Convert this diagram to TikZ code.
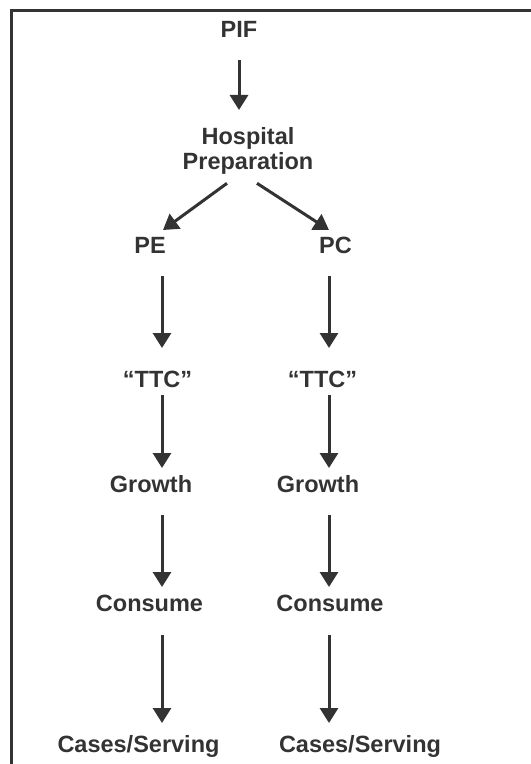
\documentclass[tikz,border=0pt]{standalone}
\usepackage{fontspec}
\setmainfont{Liberation Sans}
\usetikzlibrary{arrows.meta,calc}
\definecolor{ink}{HTML}{333333}
\begin{document}
\begin{tikzpicture}[x=1bp,y=-1bp,
  word/.style={font=\fontsize{23.5bp}{25bp}\selectfont\bfseries, text=ink, inner sep=0pt},
  stage/.style={word, text height=16.8bp, text depth=0pt, anchor=base},
  flow/.style={-{Triangle[width=18bp,length=15bp]}, draw=ink, line width=3bp}]

\useasboundingbox (0,0) rectangle (531,764);
\draw[ink, line width=3bp] (11.5,764) -- (11.5,10.5) -- (531,10.5);

\coordinate (colL) at (162,0);
\coordinate (colR) at (329,0);

\node[stage] (pif) at (239,38) {PIF};
\node[word, align=center, anchor=north] (hosp) at (248,127) {Hospital\\Preparation};
\node[stage] (pe) at (150,253) {PE};
\node[stage] (pc) at (335.5,253) {PC};
\node[stage] (ttcL) at (157.5,387) {“TTC”};
\node[stage] (ttcR) at (322.5,387) {“TTC”};
\node[stage] (growthL) at (151,492) {Growth};
\node[stage] (growthR) at (318,492) {Growth};
\node[stage] (consL) at (149.5,611) {Consume};
\node[stage] (consR) at (330,611) {Consume};
\node[stage] (casesL) at (138.5,752) {Cases/Serving};
\node[stage] (casesR) at (360,752) {Cases/Serving};

\draw[flow, shorten <=22bp, shorten >=17bp] (pif.south) -- (pif.south |- hosp.north);
\draw[flow] ($(hosp.south)+(-21,9)$) -- ($(pe.north)+(13,-6)$);
\draw[flow] ($(hosp.south)+(9,9)$) -- ($(pc.north)+(-6.5,-6)$);

\draw[flow, shorten <=23bp, shorten >=22bp] (pe.south -| colL) -- (ttcL.north -| colL);
\draw[flow, shorten <=8bp, shorten >=7bp] (ttcL.south -| colL) -- (growthL.north -| colL);
\draw[flow, shorten <=23bp, shorten >=7bp] (growthL.south -| colL) -- (consL.north -| colL);
\draw[flow, shorten <=24bp, shorten >=12bp] (consL.south -| colL) -- (casesL.north -| colL);

\draw[flow, shorten <=23bp, shorten >=22bp] (pc.south -| colR) -- (ttcR.north -| colR);
\draw[flow, shorten <=8bp, shorten >=7bp] (ttcR.south -| colR) -- (growthR.north -| colR);
\draw[flow, shorten <=23bp, shorten >=7bp] (growthR.south -| colR) -- (consR.north -| colR);
\draw[flow, shorten <=24bp, shorten >=12bp] (consR.south -| colR) -- (casesR.north -| colR);

\end{tikzpicture}
\end{document}
